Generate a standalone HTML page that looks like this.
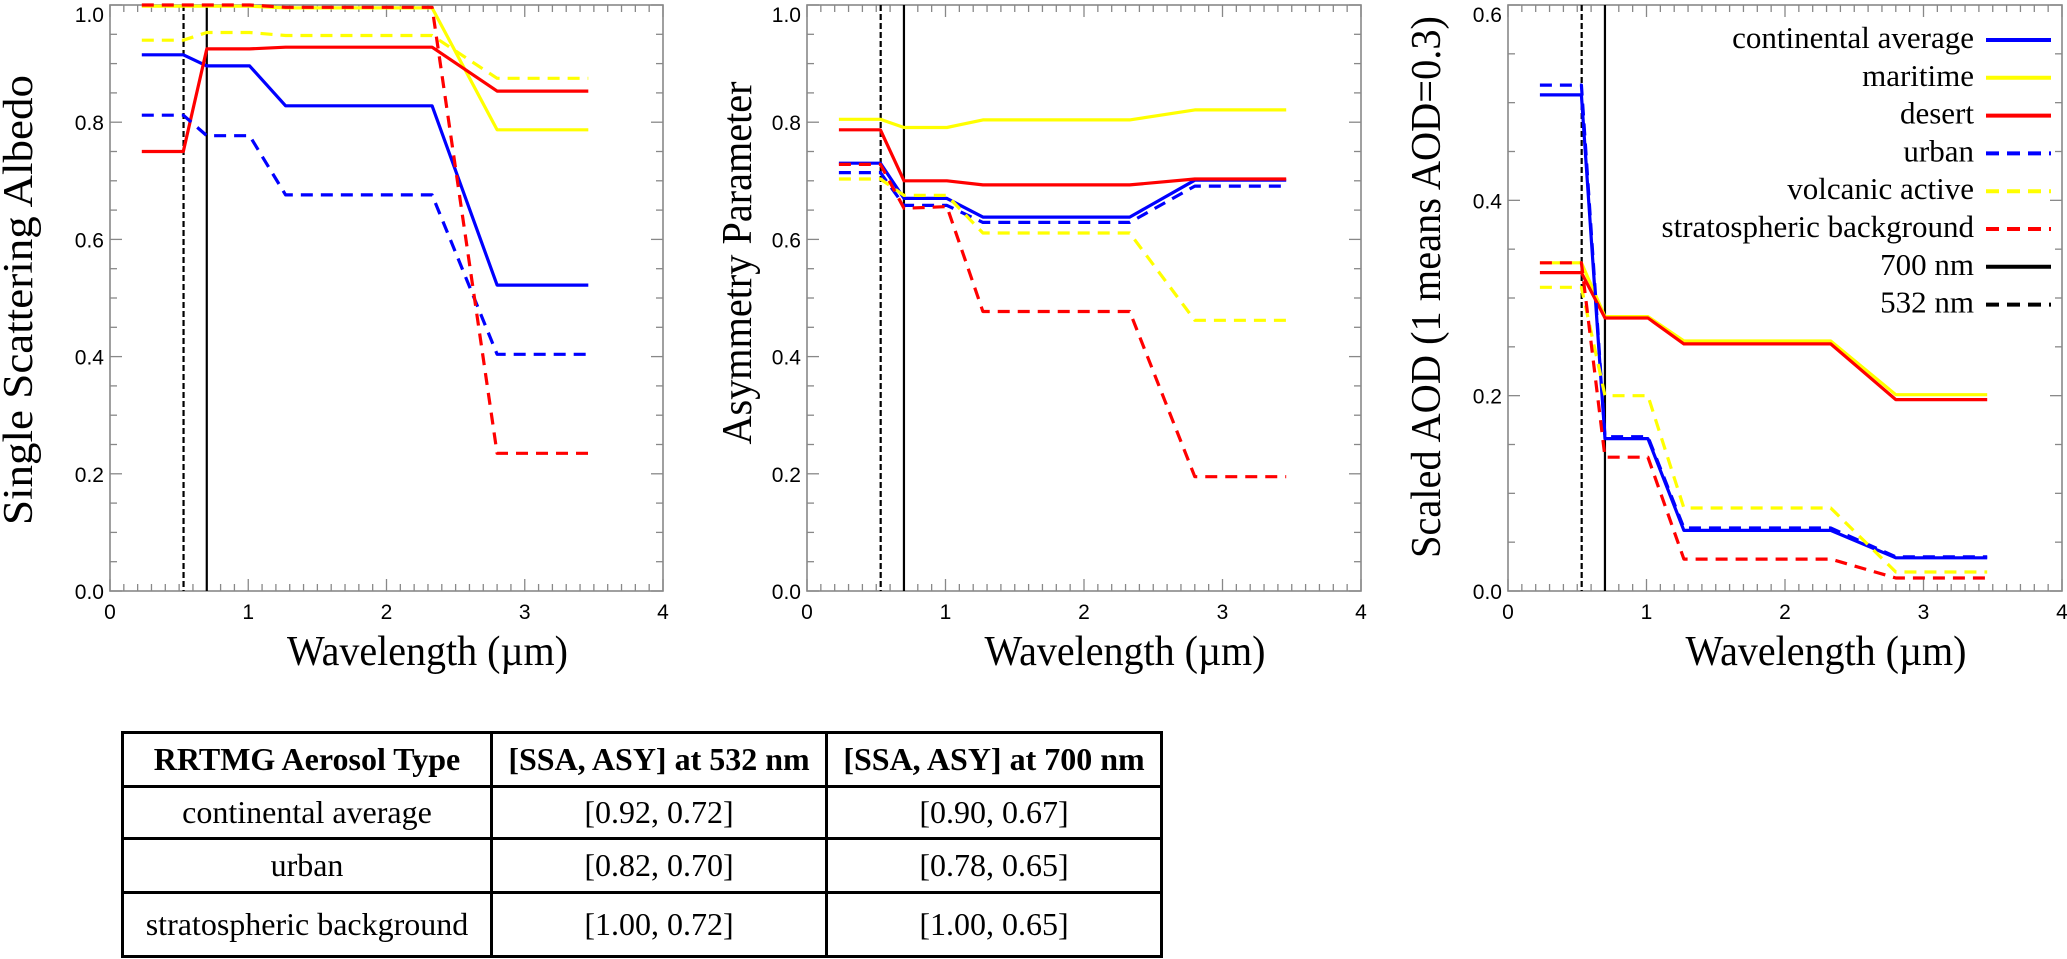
<!DOCTYPE html>
<html><head><meta charset="utf-8"><style>
html,body{margin:0;padding:0;background:#fff;}
svg{display:block;}
.tick{font-family:"Liberation Sans",sans-serif;font-size:21px;fill:#000;}
.lab{font-family:"Liberation Serif",serif;fill:#000;}
</style></head><body>
<svg id="fig" width="2067" height="959" viewBox="0 0 2067 959" xmlns="http://www.w3.org/2000/svg"></svg>
<script>
// shared wavelength nodes (µm)
const wavelengths = [0.23, 0.53, 0.70, 1.01, 1.27, 2.33, 2.80, 3.46];
const seriesNames = ["continental average","maritime","desert","urban","volcanic active","stratospheric background"];
const seriesColors = ["#0000ff","#ffff00","#ff0000","#0000ff","#ffff00","#ff0000"];
const seriesDashed = [false,false,false,true,true,true];
// Single scattering albedo
const ssaContinental = [0.915,0.915,0.896,0.896,0.828,0.828,0.522,0.522];
const ssaMaritime    = [0.998,0.998,0.998,0.998,0.995,0.995,0.787,0.787];
const ssaDesert      = [0.75,0.75,0.925,0.925,0.928,0.928,0.853,0.853];
const ssaUrban       = [0.812,0.812,0.777,0.777,0.676,0.676,0.404,0.404];
const ssaVolcanic    = [0.94,0.94,0.953,0.953,0.948,0.948,0.875,0.875];
const ssaStrato      = [1.0,1.0,1.0,1.0,0.996,0.996,0.235,0.235];
// Asymmetry parameter
const asyContinental = [0.73,0.73,0.67,0.67,0.638,0.638,0.701,0.701];
const asyMaritime    = [0.805,0.805,0.791,0.791,0.804,0.804,0.821,0.821];
const asyDesert      = [0.787,0.787,0.70,0.70,0.693,0.693,0.703,0.703];
const asyUrban       = [0.714,0.714,0.658,0.658,0.629,0.629,0.691,0.691];
const asyVolcanic    = [0.703,0.703,0.675,0.675,0.611,0.611,0.462,0.462];
const asyStrato      = [0.728,0.728,0.653,0.656,0.477,0.477,0.195,0.195];
// Scaled AOD
const aodContinental = [0.508,0.508,0.156,0.156,0.062,0.062,0.034,0.034];
const aodMaritime    = [0.336,0.336,0.281,0.281,0.256,0.256,0.201,0.201];
const aodDesert      = [0.326,0.326,0.2795,0.2795,0.253,0.253,0.196,0.196];
const aodUrban       = [0.518,0.518,0.158,0.158,0.0645,0.0645,0.035,0.035];
const aodVolcanic    = [0.311,0.311,0.20,0.20,0.085,0.085,0.0195,0.0195];
const aodStrato      = [0.336,0.336,0.137,0.137,0.0327,0.0327,0.0133,0.0133];
const refWavelengths = [0.532, 0.700];
const xTickLabels = ["0","1","2","3","4"];
const ssaTickLabels = ["0.0","0.2","0.4","0.6","0.8","1.0"];
const aodTickLabels = ["0.0","0.2","0.4","0.6"];

const NS="http://www.w3.org/2000/svg";
const svg=document.getElementById('fig');
function mk(tag,attrs,parent){const e=document.createElementNS(NS,tag);for(const k in attrs)e.setAttribute(k,attrs[k]);(parent||svg).appendChild(e);return e;}

const TOP=5,BOT=591;
function panel(name,left,right,ymax,yTickLabels,series,ylabel,ylabelX,ylabelCY,ylabelLen){
  const g=mk('g',{});
  
  
  const xs=v=>left+(v/4)*(right-left);
  const ys=v=>BOT-(v/ymax)*(BOT-TOP);
  for(let i=0;i<=40;i++){
    const v=i/10,x=xs(v),len=(i%10===0)?12:7;
    mk('line',{x1:x,y1:BOT,x2:x,y2:BOT-len,stroke:'#888','stroke-width':1.3},g);
    mk('line',{x1:x,y1:TOP,x2:x,y2:TOP+len,stroke:'#888','stroke-width':1.3},g);
  }
  const nMinor=Math.round(ymax/0.05);
  for(let i=0;i<=nMinor;i++){
    const v=i*0.05,y=ys(v),len=(i%4===0)?12:7;
    mk('line',{x1:left,y1:y,x2:left+len,y2:y,stroke:'#888','stroke-width':1.3},g);
    mk('line',{x1:right,y1:y,x2:right-len,y2:y,stroke:'#888','stroke-width':1.3},g);
  }
  mk('rect',{x:left,y:TOP,width:right-left,height:BOT-TOP,fill:'none',stroke:'#888','stroke-width':1.6},g);
  xTickLabels.forEach((t,i)=>{
    const tx=mk('text',{x:xs(+t),y:619,'text-anchor':'middle',class:'tick'},g);tx.textContent=t;
    
    
  });
  yTickLabels.forEach((t)=>{
    const y=ys(+t);
    const ty=mk('text',{x:left-6,y:Math.max(y+8,22),'text-anchor':'end',class:'tick'},g);ty.textContent=t;
    
    
  });
  refWavelengths.forEach((w,i)=>{
    const l=mk('line',{x1:xs(w),y1:TOP,x2:xs(w),y2:BOT,stroke:'#000','stroke-width':2.2},g);
    if(i===0)l.setAttribute('stroke-dasharray','6 3');
    
    
  });
  series.forEach((vals,si)=>{
    const d=vals.map((v,i)=>(i?'L':'M')+xs(wavelengths[i]).toFixed(1)+','+ys(v).toFixed(1)).join('');
    const p=mk('path',{d:d,fill:'none',stroke:seriesColors[si],'stroke-width':3.2,'stroke-linejoin':'round'},g);
    if(seriesDashed[si])p.setAttribute('stroke-dasharray','12 8');
    
    
  });
  const xl=mk('text',{x:(left+right)/2+41,y:665,'text-anchor':'middle',class:'lab','font-size':42,textLength:281,lengthAdjust:'spacingAndGlyphs'},g);
  xl.textContent='Wavelength (\u00b5m)';
  
  
  const yl=mk('text',{x:0,y:0,'text-anchor':'middle',class:'lab','font-size':42,textLength:ylabelLen,lengthAdjust:'spacingAndGlyphs',transform:`translate(${ylabelX},${ylabelCY}) rotate(-90)`},g);
  yl.textContent=ylabel;
  
  
}
panel('ssa',110,663,1.0,ssaTickLabels,[ssaContinental,ssaMaritime,ssaDesert,ssaUrban,ssaVolcanic,ssaStrato],'Single Scattering Albedo',32,300,450);
panel('asy',807,1361,1.0,ssaTickLabels,[asyContinental,asyMaritime,asyDesert,asyUrban,asyVolcanic,asyStrato],'Asymmetry Parameter',751,263,363);
panel('aod',1508,2062,0.6,aodTickLabels,[aodContinental,aodMaritime,aodDesert,aodUrban,aodVolcanic,aodStrato],'Scaled AOD (1 means AOD=0.3)',1440,287,542);

const legendLabels = seriesNames.concat(["700 nm","532 nm"]);
const legendColors = seriesColors.concat(["#000","#000"]);
const legendDashed = seriesDashed.concat([false,true]);
const lg=mk('g',{});


legendLabels.forEach((t,i)=>{
  const y=38+i*37.8;
  const e=mk('g',{},lg);
  
  
  const tx=mk('text',{x:1974,y:y+10,'text-anchor':'end',class:'lab','font-size':31},e);tx.textContent=t;
  const l=mk('line',{x1:1986,y1:y+2,x2:2051,y2:y+2,stroke:legendColors[i],'stroke-width':4},e);
  if(legendDashed[i])l.setAttribute('stroke-dasharray','13 8');
});
</script>

<div style="position:absolute;left:121px;top:731px;">
<table style="border-collapse:collapse;font-family:'Liberation Serif',serif;font-size:32px;text-align:center;">
<tr style="height:54px"><th style="border:3px solid #000;width:366px;padding:0;">RRTMG Aerosol Type</th><th style="border:3px solid #000;width:332px;padding:0;">[SSA, ASY] at 532 nm</th><th style="border:3px solid #000;width:332px;padding:0;">[SSA, ASY] at 700 nm</th></tr>
<tr style="height:52px"><td style="border:3px solid #000;padding:0;">continental average</td><td style="border:3px solid #000;padding:0;">[0.92, 0.72]</td><td style="border:3px solid #000;padding:0;">[0.90, 0.67]</td></tr>
<tr style="height:54px"><td style="border:3px solid #000;padding:0;">urban</td><td style="border:3px solid #000;padding:0;">[0.82, 0.70]</td><td style="border:3px solid #000;padding:0;">[0.78, 0.65]</td></tr>
<tr style="height:64px"><td style="border:3px solid #000;padding:0;">stratospheric background</td><td style="border:3px solid #000;padding:0;">[1.00, 0.72]</td><td style="border:3px solid #000;padding:0;">[1.00, 0.65]</td></tr>
</table></div>
</body></html>
